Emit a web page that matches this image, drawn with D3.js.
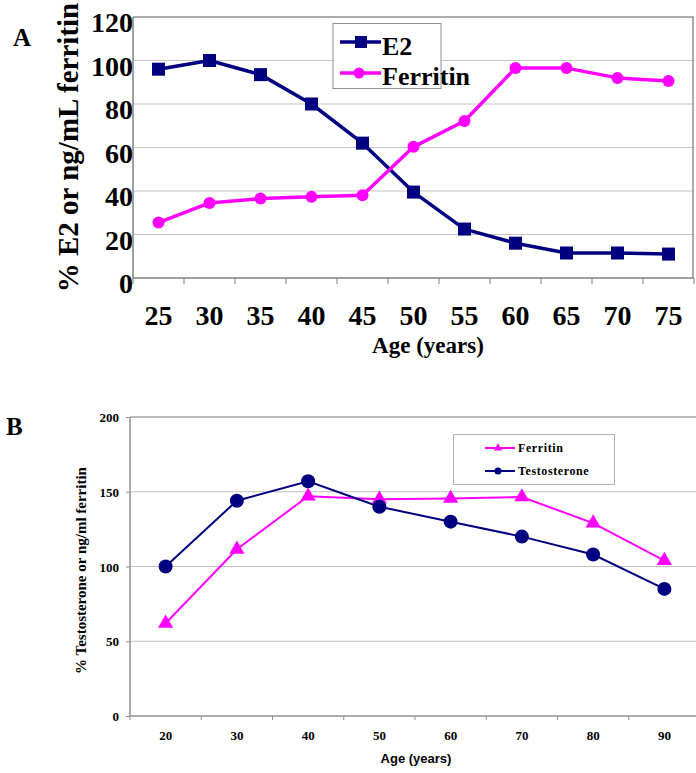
<!DOCTYPE html>
<html>
<head>
<meta charset="utf-8">
<script src="https://cdn.jsdelivr.net/npm/d3@7"></script>
<style>
  html, body { margin: 0; padding: 0; background: #fff; }
  svg { display: block; }
  text.serif { font-family: "Liberation Serif", "Times New Roman", serif; font-weight: bold; }
  text.sans { font-family: "Liberation Sans", Arial, sans-serif; font-weight: bold; }
</style>
</head>
<body>
<svg id="chart" width="696" height="773"></svg>
<script>
// ---- Panel A data ----
const agesA = [25, 30, 35, 40, 45, 50, 55, 60, 65, 70, 75];
const e2A = [96, 100, 93.5, 80, 62, 39.5, 22.5, 16, 11.5, 11.5, 11];
const ferritinA = [25.5, 34.5, 36.5, 37.3, 38, 60.3, 72.2, 96.5, 96.5, 92, 90.6];
const yTicksA = [0, 20, 40, 60, 80, 100, 120];

// ---- Panel B data ----
const agesB = [20, 30, 40, 50, 60, 70, 80, 90];
const ferritinB = [62, 111.5, 147, 145, 145.5, 146.5, 129, 104];
const testosteroneB = [100, 144, 157, 140, 130, 120, 108, 85];
const yTicksB = [0, 50, 100, 150, 200];

const NAVY = "#000080", MAG = "#ff00ff";

const svg = d3.select("#chart");

function serif(sel, size) {
  return sel.attr("class", "serif").attr("font-family", null).style("font-size", size + "px").attr("fill", "#000");
}

// ================= Panel A =================
{
  const L = 133, R = 694, T = 17, B = 278;
  const x = d3.scaleBand().domain(agesA).range([L, R]).padding(0);
  const y = d3.scaleLinear().domain([0, 120]).range([B, T]);
  const g = svg.append("g");

  g.selectAll("line.grid").data(yTicksA.filter(d => d > 0)).join("line")
    .attr("x1", L).attr("x2", R).attr("y1", d => y(d)).attr("y2", d => y(d))
    .attr("stroke", d => d === 120 ? "#909090" : "#c4c4c4").attr("stroke-width", d => d === 120 ? 1.5 : 1);
  g.append("line").attr("x1", R - 1).attr("x2", R - 1).attr("y1", T).attr("y2", B)
    .attr("stroke", "#909090").attr("stroke-width", 1.5);

  const xAx = g.append("g").attr("transform", `translate(0,${B})`)
    .call(d3.axisBottom(x).tickSize(0).tickPadding(0));
  xAx.attr("font-family", null);
  xAx.select(".domain").remove();
  serif(xAx.selectAll("text"), 28).attr("dy", null).attr("y", 47);
  g.append("line").attr("x1", L).attr("x2", R).attr("y1", B).attr("y2", B)
    .attr("stroke", "#808080").attr("stroke-width", 1.5);
  g.selectAll("line.xt").data(d3.range(agesA.length + 1)).join("line")
    .attr("x1", i => L + i * x.step()).attr("x2", i => L + i * x.step())
    .attr("y1", B).attr("y2", B + 6).attr("stroke", "#808080").attr("stroke-width", 1);

  const yAx = g.append("g").attr("transform", `translate(${L},0)`)
    .call(d3.axisLeft(y).tickValues(yTicksA).tickSize(0).tickPadding(0));
  yAx.attr("font-family", null);
  yAx.select(".domain").remove();
  serif(yAx.selectAll("text"), 28).attr("dy", 14.5).attr("x", 0);
  g.append("line").attr("x1", L).attr("x2", L).attr("y1", T).attr("y2", B)
    .attr("stroke", "#808080").attr("stroke-width", 1.5);

  const line = d3.line().x((d, i) => x(agesA[i]) + x.bandwidth() / 2).y(d => y(d));
  g.append("path").datum(e2A).attr("d", line).attr("fill", "none")
    .attr("stroke", NAVY).attr("stroke-width", 3.5).attr("stroke-linejoin", "round");
  g.append("path").datum(ferritinA).attr("d", line).attr("fill", "none")
    .attr("stroke", MAG).attr("stroke-width", 3.5).attr("stroke-linejoin", "round");
  g.selectAll("rect.e2").data(e2A).join("rect")
    .attr("x", (d, i) => x(agesA[i]) + x.bandwidth() / 2 - 6.5)
    .attr("y", d => y(d) - 6.5).attr("width", 13).attr("height", 13).attr("fill", NAVY);
  g.selectAll("circle.fe").data(ferritinA).join("circle")
    .attr("cx", (d, i) => x(agesA[i]) + x.bandwidth() / 2)
    .attr("cy", d => y(d)).attr("r", 6).attr("fill", MAG);

  // legend
  g.append("rect").attr("x", 333).attr("y", 23.5).attr("width", 108).attr("height", 65)
    .attr("fill", "#fff").attr("stroke", "#909090").attr("stroke-width", 1);
  g.append("line").attr("x1", 340).attr("x2", 381).attr("y1", 42).attr("y2", 42)
    .attr("stroke", NAVY).attr("stroke-width", 3.5);
  g.append("rect").attr("x", 355).attr("y", 36).attr("width", 12).attr("height", 12).attr("fill", NAVY);
  g.append("line").attr("x1", 340).attr("x2", 381).attr("y1", 73).attr("y2", 73)
    .attr("stroke", MAG).attr("stroke-width", 3.5);
  g.append("circle").attr("cx", 359).attr("cy", 73).attr("r", 5.5).attr("fill", MAG);
  serif(g.append("text").attr("x", 382).attr("y", 55).text("E2"), 26);
  serif(g.append("text").attr("x", 382).attr("y", 85).text("Ferritin"), 26);

  serif(g.append("text").attr("x", 428).attr("y", 353).attr("text-anchor", "middle")
    .text("Age (years)"), 23);
  serif(g.append("text").attr("transform", `translate(78,${(T + B) / 2}) rotate(-90)`)
    .attr("text-anchor", "middle").text("% E2 or ng/mL ferritin"), 29);
  serif(g.append("text").attr("x", 13).attr("y", 46).text("A"), 25);
}

// ================= Panel B =================
{
  const L = 130, R = 700, T = 417, B = 716;
  const x = d3.scaleBand().domain(agesB).range([L, R]).padding(0);
  const y = d3.scaleLinear().domain([0, 200]).range([B, T]);
  const g = svg.append("g");

  g.selectAll("line.grid").data(yTicksB.filter(d => d > 0)).join("line")
    .attr("x1", L).attr("x2", R).attr("y1", d => y(d)).attr("y2", d => y(d))
    .attr("stroke", d => d === 200 ? "#a0a0a0" : "#c0c0c0").attr("stroke-width", d => d === 200 ? 1.5 : 1);

  const xAx = g.append("g").attr("transform", `translate(0,${B})`)
    .call(d3.axisBottom(x).tickSize(0).tickPadding(0));
  xAx.attr("font-family", null);
  xAx.select(".domain").remove();
  serif(xAx.selectAll("text"), 13).attr("dy", null).attr("y", 24);
  g.append("line").attr("x1", L).attr("x2", R).attr("y1", B).attr("y2", B)
    .attr("stroke", "#909090").attr("stroke-width", 1.5);
  g.selectAll("line.xt").data(d3.range(agesB.length + 1)).join("line")
    .attr("x1", i => L + i * x.step()).attr("x2", i => L + i * x.step())
    .attr("y1", B).attr("y2", B + 4).attr("stroke", "#909090").attr("stroke-width", 1);

  const yAx = g.append("g").attr("transform", `translate(${L},0)`)
    .call(d3.axisLeft(y).tickValues(yTicksB).tickSize(4).tickPadding(7));
  yAx.attr("font-family", null);
  yAx.select(".domain").remove();
  yAx.selectAll("line").attr("stroke", "#909090");
  serif(yAx.selectAll("text"), 13).attr("dy", 4.5);
  g.append("line").attr("x1", L).attr("x2", L).attr("y1", T).attr("y2", B)
    .attr("stroke", "#909090").attr("stroke-width", 1.5);

  const cx = (d, i) => x(agesB[i]) + x.bandwidth() / 2;
  const line = d3.line().x(cx).y(d => y(d));
  g.append("path").datum(ferritinB).attr("d", line).attr("fill", "none")
    .attr("stroke", MAG).attr("stroke-width", 2);
  g.append("path").datum(testosteroneB).attr("d", line).attr("fill", "none")
    .attr("stroke", NAVY).attr("stroke-width", 2);
  const tri = d3.symbol().type(d3.symbolTriangle).size(100);
  g.selectAll("path.fe").data(ferritinB).join("path")
    .attr("d", tri).attr("transform", (d, i) => `translate(${cx(d, i)},${y(d)})`).attr("fill", MAG);
  g.selectAll("circle.te").data(testosteroneB).join("circle")
    .attr("cx", cx).attr("cy", d => y(d)).attr("r", 7).attr("fill", NAVY);

  // legend
  g.append("rect").attr("x", 453.5).attr("y", 434.5).attr("width", 161).attr("height", 50)
    .attr("fill", "#fff").attr("stroke", "#b0b0b0").attr("stroke-width", 1);
  g.append("line").attr("x1", 485).attr("x2", 515).attr("y1", 448).attr("y2", 448)
    .attr("stroke", MAG).attr("stroke-width", 2);
  g.append("path").attr("d", d3.symbol().type(d3.symbolTriangle).size(30))
    .attr("transform", "translate(498,448)").attr("fill", MAG);
  g.append("line").attr("x1", 485).attr("x2", 515).attr("y1", 471).attr("y2", 471)
    .attr("stroke", NAVY).attr("stroke-width", 2);
  g.append("circle").attr("cx", 498).attr("cy", 471).attr("r", 3.5).attr("fill", NAVY);
  serif(g.append("text").attr("x", 518).attr("y", 451.5).text("Ferritin"), 12).style("letter-spacing", "0.6px");
  serif(g.append("text").attr("x", 518).attr("y", 474.5).text("Testosterone"), 12).style("letter-spacing", "0.6px");

  g.append("text").attr("class", "sans").attr("x", 416).attr("y", 763).attr("text-anchor", "middle")
    .style("font-size", "13px").text("Age (years)");
  serif(g.append("text").attr("transform", `translate(86,${(T + B) / 2 + 4}) rotate(-90)`)
    .attr("text-anchor", "middle").text("% Testosterone or ng/ml ferritin"), 15);
  serif(g.append("text").attr("x", 6).attr("y", 435).text("B"), 25);
}
</script>
</body>
</html>
